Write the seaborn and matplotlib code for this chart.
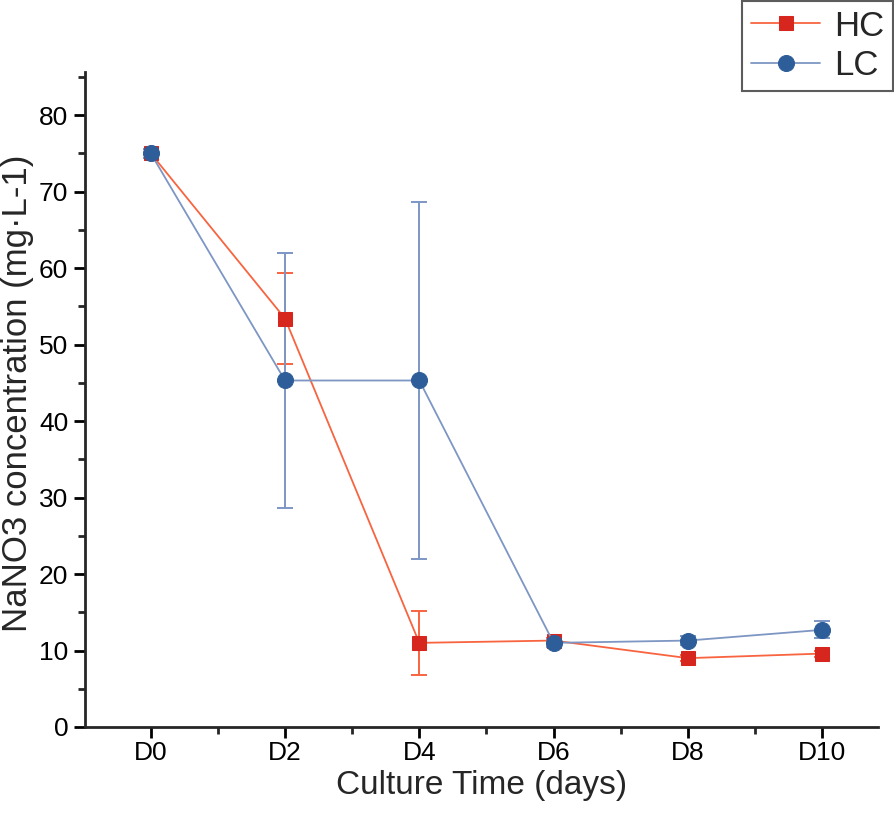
import numpy as np
import pandas as pd
import seaborn as sns
import matplotlib.pyplot as plt

# data
days = [0, 2, 4, 6, 8, 10]
day_labels = ["D0", "D2", "D4", "D6", "D8", "D10"]
hc_mean = [75.0, 53.4, 11.0, 11.3, 9.0, 9.6]
hc_err = [0.6, 6.0, 4.2, 0.4, 0.4, 0.4]
lc_mean = [75.0, 45.3, 45.3, 11.0, 11.3, 12.7]
lc_err = [0.6, 16.7, 23.4, 0.5, 0.6, 1.1]

df = pd.DataFrame({
    "day": days * 2,
    "value": hc_mean + lc_mean,
    "group": ["HC"] * 6 + ["LC"] * 6,
})

sns.set_style("ticks")
plt.rcParams["font.family"] = ["Liberation Sans", "DejaVu Sans"]

line_col = {"HC": "#f8643f", "LC": "#7d96c4"}
mark_col = {"HC": "#d7261e", "LC": "#2e5e99"}
markers = {"HC": "s", "LC": "o"}
msize = {"HC": 10, "LC": 11.5}

fig = plt.figure(figsize=(8.94, 8.21), dpi=100)
ax = fig.add_axes([0.095, 0.1145, 0.887, 0.7975])

# error bars first so markers sit on top
for g, m, e in [("HC", hc_mean, hc_err), ("LC", lc_mean, lc_err)]:
    ax.errorbar(days, m, yerr=e, fmt="none", ecolor=line_col[g],
                elinewidth=1.4, capsize=6, capthick=1.4, zorder=2)

handles = []
for g in ["HC", "LC"]:
    sub = df[df["group"] == g]
    sns.lineplot(data=sub, x="day", y="value", ax=ax, color=line_col[g],
                 linewidth=1.3, marker=markers[g], markersize=msize[g],
                 markerfacecolor=mark_col[g], markeredgecolor=mark_col[g],
                 label=g, zorder=3, legend=False)
    handles.append(ax.lines[-1])

ax.set_xlim(-0.98, 10.83)
ax.set_ylim(0, 85.6)
ax.set_xticks(days)
ax.set_xticklabels(day_labels)
ax.set_xticks([1, 3, 5, 7, 9], minor=True)
ax.set_yticks(np.arange(0, 81, 10))
ax.set_yticks(np.arange(5, 86, 10), minor=True)

sns.despine(ax=ax)
for s in ["left", "bottom"]:
    ax.spines[s].set_linewidth(2)
ax.tick_params(axis="both", which="major", direction="out", length=8, width=2,
               labelsize=19, colors="black", pad=4)
ax.tick_params(axis="x", which="major", pad=2)
ax.tick_params(axis="both", which="minor", direction="out", length=5, width=2)

ax.set_xlabel("Culture Time (days)", fontsize=24, labelpad=4)
ax.set_ylabel("NaNO3 concentration (mg·L-1)", fontsize=25)
ax.yaxis.set_label_coords(-0.064, 0.51)

leg = fig.legend(handles, ["HC", "LC"], loc="upper right",
                 bbox_to_anchor=(0.999, 0.999), borderaxespad=0,
                 fontsize=25, frameon=True, fancybox=False,
                 edgecolor="#333333", handlelength=2.0,
                 borderpad=0.25, labelspacing=0.2, handletextpad=0.4)
leg.get_frame().set_linewidth(1.5)

fig.savefig("out.png", dpi=100)
